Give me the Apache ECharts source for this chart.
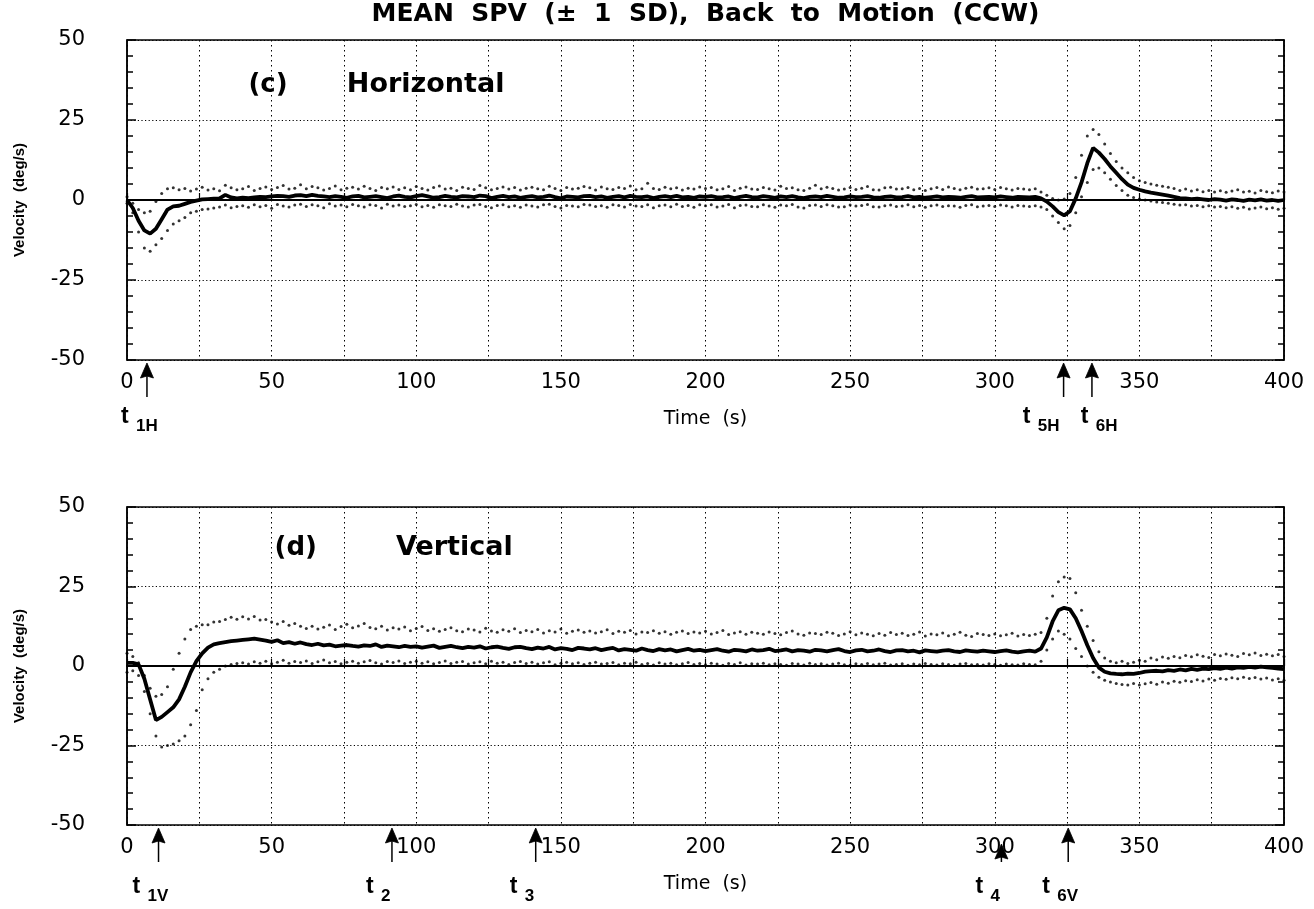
<!DOCTYPE html>
<html><head><meta charset="utf-8">
<script src="https://cdn.jsdelivr.net/npm/echarts@6/dist/echarts.min.js"></script>
<style>html,body{margin:0;padding:0;background:#fff}#main{width:1314px;height:909px}</style>
</head><body><div id="main"></div>
<script>
const titleText = 'MEAN  SPV  (\u00b1  1  SD),  Back  to  Motion  (CCW)';
const panelTags = ['(c)', '(d)'];
const panelNames = ['Horizontal', 'Vertical'];
const xTickLabels = [0, 50, 100, 150, 200, 250, 300, 350, 400];
const yTickLabels = [-50, -25, 0, 25, 50];

const time = [0,2,4,6,8,10,12,14,16,18,20,22,24,26,28,30,32,34,36,38,40,42,44,46,48,50,52,54,56,58,60,62,64,66,68,70,72,74,76,78,80,82,84,86,88,90,92,94,96,98,100,102,104,106,108,110,112,114,116,118,120,122,124,126,128,130,132,134,136,138,140,142,144,146,148,150,152,154,156,158,160,162,164,166,168,170,172,174,176,178,180,182,184,186,188,190,192,194,196,198,200,202,204,206,208,210,212,214,216,218,220,222,224,226,228,230,232,234,236,238,240,242,244,246,248,250,252,254,256,258,260,262,264,266,268,270,272,274,276,278,280,282,284,286,288,290,292,294,296,298,300,302,304,306,308,310,312,314,316,318,320,322,324,326,328,330,332,334,336,338,340,342,344,346,348,350,352,354,356,358,360,362,364,366,368,370,372,374,376,378,380,382,384,386,388,390,392,394,396,398,400];

// (c) Horizontal
const hMean = [
0,-2.5,-6.5,-9.5,-10.5,-9,-6,-3,-2,-1.8,
-1.2,-0.6,-0.2,0.2,0.3,0.4,0.5,1.6,0.8,0.5,
0.7,0.6,0.8,1.0,0.9,1.1,1.3,1.2,1.0,1.4,
1.5,1.2,1.6,1.3,1.1,0.9,1.2,1.0,0.7,1.1,
1.3,0.8,1.0,1.2,0.9,0.6,1.1,1.4,1.0,0.8,
1.2,1.5,1.1,0.7,0.9,1.3,1.0,0.8,1.2,1.1,
0.9,1.4,1.2,0.6,1.0,1.3,0.9,1.1,0.7,1.0,
1.2,0.8,1.0,1.4,0.9,0.5,1.1,1.0,0.8,1.2,
1.3,0.9,1.1,0.7,1.0,1.2,0.8,1.3,1.0,0.9,
1.1,0.6,1.0,1.2,0.9,1.3,0.8,1.0,0.7,1.1,
1.0,1.2,0.8,0.9,1.1,0.6,1.0,1.3,0.9,0.8,
1.2,1.0,0.7,1.1,0.9,1.2,0.8,0.6,1.0,1.1,
0.9,1.3,1.0,0.7,0.8,1.1,0.9,1.0,1.2,0.8,
0.7,1.0,1.1,0.8,0.9,1.2,0.8,1.0,0.7,0.9,
1.1,0.8,1.0,0.9,0.7,1.0,1.2,0.8,0.9,1.0,
0.8,1.1,0.9,0.7,1.0,0.9,0.8,1.0,0.5,-0.5,
-2,-3.8,-4.8,-3.5,0.5,5.5,11.5,16.3,14.8,12.8,
10.5,8.5,6.5,4.8,3.8,3.2,2.7,2.3,2.0,1.7,
1.4,1.0,0.6,0.5,0.3,0.4,0.2,0.0,0.3,0.1,
-0.2,0.2,0.0,-0.3,0.1,-0.1,0.2,-0.2,0.0,-0.3,
0.0];
const hUpper = [
1,-1,-3,-4,-3.5,-0.5,2,3.5,3.8,3.2,
3.6,2.8,3.4,4.0,3.1,3.5,2.9,4.6,3.8,3.2,
3.5,4.2,3.0,3.6,4.1,3.3,3.9,4.5,3.4,3.7,
4.8,3.5,4.2,3.8,3.1,3.6,4.4,3.2,3.7,4.0,
3.4,4.3,3.6,3.0,3.9,3.5,4.1,3.3,3.8,3.2,
4.2,3.6,3.1,3.9,4.4,3.4,3.7,3.0,4.0,3.6,
3.3,4.5,3.8,3.2,3.6,4.1,3.4,3.9,3.1,3.7,
4.0,3.5,3.2,4.3,3.6,3.0,3.9,3.4,3.7,4.2,
3.8,3.1,4.1,3.5,3.3,3.9,3.6,4.4,3.2,3.5,
5.2,3.6,3.3,4.0,3.5,3.8,3.1,3.7,3.4,4.1,
3.6,3.9,3.2,3.5,4.2,3.0,3.7,4.1,3.4,3.3,
3.9,3.5,3.1,4.3,3.6,3.8,3.2,3.0,3.7,4.6,
3.5,4.0,3.6,3.1,3.4,3.9,3.3,3.7,4.2,3.2,
3.1,3.8,4.0,3.4,3.5,3.9,3.2,3.6,3.0,3.5,
3.9,3.3,4.1,3.6,3.2,3.7,4.0,3.4,3.5,3.8,
3.3,3.9,3.5,3.1,3.6,3.4,3.2,3.5,2.5,1.5,
0.5,0.0,0.3,2.0,7.0,14.0,20.0,22.0,20.5,17.5,
14.5,12.0,10.0,8.5,7.0,6.0,5.5,5.0,4.6,4.3,
4.0,3.6,3.0,3.4,2.8,3.2,2.6,3.0,2.5,2.9,
2.4,2.8,3.2,2.5,2.7,2.2,3.0,2.6,2.3,2.8,
2.5];
const hLower = [
-1,-4,-10,-15,-16,-14,-12,-9.5,-7.5,-6.5,
-5.5,-4,-3.5,-3,-2.8,-2.5,-2.2,-1.6,-2.4,-2.0,
-1.8,-2.3,-1.5,-2.1,-1.7,-2.6,-1.4,-1.9,-2.2,-1.6,
-1.3,-2.0,-1.5,-1.8,-2.4,-1.2,-1.9,-1.6,-2.1,-1.4,
-1.8,-2.2,-1.5,-1.7,-2.5,-1.3,-1.9,-1.6,-2.0,-1.8,
-1.4,-2.1,-1.7,-2.3,-1.5,-1.8,-2.0,-1.3,-1.9,-2.2,
-1.6,-1.4,-2.0,-2.4,-1.7,-1.5,-2.1,-1.8,-2.3,-1.6,
-1.9,-2.2,-1.5,-1.3,-2.0,-2.5,-1.7,-1.9,-2.1,-1.4,
-1.6,-2.0,-1.8,-2.3,-1.5,-1.7,-2.2,-1.4,-1.9,-2.0,
-1.5,-2.4,-1.8,-1.6,-2.1,-1.3,-2.0,-1.7,-2.3,-1.5,
-1.8,-1.5,-2.2,-1.9,-1.4,-2.4,-1.7,-1.6,-2.0,-2.1,
-1.5,-1.9,-2.3,-1.6,-1.8,-1.4,-2.2,-2.5,-1.7,-1.6,
-2.0,-1.5,-1.8,-2.2,-2.1,-1.6,-1.9,-1.7,-1.4,-2.1,
-2.2,-1.8,-1.6,-2.0,-1.9,-1.5,-2.1,-1.7,-2.3,-1.8,
-1.6,-2.0,-1.8,-1.9,-2.3,-1.7,-1.5,-2.1,-1.9,-1.7,
-2.0,-1.6,-1.8,-2.2,-1.7,-1.9,-2.0,-1.8,-2.2,-3.0,
-5.0,-7.0,-9.0,-8.0,-4.0,1.0,5.5,9.5,10.0,8.5,
6.5,4.5,3.0,1.5,0.8,0.3,0.0,-0.3,-0.6,-0.8,
-1.0,-1.3,-1.6,-1.5,-1.9,-1.7,-2.1,-1.8,-2.2,-2.0,
-2.4,-2.1,-2.6,-2.3,-2.8,-2.5,-2.2,-2.7,-2.4,-2.9,
-2.6];

// (d) Vertical
const vMean = [
1,1,0.5,-4,-10.5,-17,-16,-14.5,-13,-10.5,
-6.5,-2,1.5,4,5.8,6.8,7.2,7.5,7.8,8.0,
8.2,8.4,8.6,8.3,8.0,7.6,8.1,7.2,7.5,7.0,
7.4,6.9,6.6,7.0,6.5,6.7,6.2,6.4,6.6,6.3,
6.1,6.5,6.3,6.8,6.0,6.4,6.2,5.9,6.3,6.0,
6.2,5.8,6.1,6.4,5.7,6.0,6.3,5.9,5.6,6.0,
5.8,6.2,5.5,5.9,6.1,5.7,5.4,5.9,6.0,5.6,
5.3,5.8,5.5,6.0,5.2,5.6,5.4,5.0,5.7,5.5,
5.2,5.6,5.0,5.4,5.7,4.9,5.3,5.1,4.8,5.5,
5.0,4.7,5.3,4.9,5.2,4.6,5.0,5.4,4.8,5.1,
4.7,5.0,5.3,4.8,4.5,5.1,4.9,4.6,5.2,4.8,
5.0,5.4,4.7,4.9,5.2,4.6,5.0,4.8,4.5,5.1,
4.9,4.6,5.0,5.3,4.7,4.4,4.9,5.1,4.6,4.8,
5.2,4.7,4.4,4.9,5.0,4.6,4.8,4.3,4.9,4.7,
4.5,4.8,5.0,4.6,4.4,4.9,4.7,4.5,4.8,4.6,
4.4,4.7,4.9,4.5,4.3,4.6,4.8,4.5,5.5,9.0,
14.0,17.5,18.3,17.8,15.0,11.0,6.5,2.5,-0.5,-1.8,
-2.3,-2.5,-2.6,-2.4,-2.5,-2.2,-1.8,-1.6,-1.5,-1.7,
-1.3,-1.5,-1.1,-1.4,-0.9,-1.2,-0.8,-1.0,-0.7,-0.9,
-0.5,-0.8,-0.4,-0.6,-0.3,-0.5,-0.2,-0.4,-0.6,-0.8,
-1.0];
const vUpper = [
4,3,1,-3,-7,-9.5,-9,-6.5,-1,4,
8.5,11.5,12.5,13,13,13.8,14,14.6,15.3,14.7,
15.5,14.8,15.6,14.5,14.6,13.8,13.2,14,12.8,13.4,
12.5,11.8,12.5,11.6,12.2,12.9,11.5,12.4,13.1,12.0,
12.6,13.4,12.1,11.7,12.5,11.3,12.0,11.6,12.3,11.1,
11.8,12.4,11.2,11.7,10.9,11.5,12.0,11.1,10.8,11.6,
11.3,10.7,11.9,11.0,10.6,11.4,10.9,11.7,10.5,11.2,
10.8,11.5,10.4,11.1,10.7,11.6,10.3,10.9,11.3,10.6,
11.0,10.4,10.8,11.4,10.2,10.9,10.6,11.2,10.1,10.7,
10.5,11.1,10.3,10.8,10.0,10.6,11.0,10.2,10.7,10.4,
10.9,10.1,10.5,11.2,9.9,10.4,10.8,10.0,10.6,10.3,
10.0,10.7,10.2,9.8,10.5,11.0,10.1,9.7,10.4,10.2,
9.9,10.6,10.3,9.6,10.1,10.8,9.8,10.4,10.0,9.5,
10.2,9.7,10.5,9.9,10.3,9.6,10.0,10.7,9.4,10.1,
9.8,10.4,9.5,10.0,10.6,9.7,9.3,10.2,9.9,9.6,
10.1,9.5,9.8,10.3,9.4,9.9,9.6,10.0,10.5,15.0,
22.0,26.5,28.0,27.5,23.0,17.5,12.5,8.0,4.5,2.5,
1.5,1.0,1.5,0.8,1.2,1.8,1.5,2.5,2.0,2.8,
2.4,3.0,2.6,3.3,2.9,3.5,3.1,2.7,3.6,3.2,
3.8,3.4,3.0,3.9,3.5,4.1,3.3,3.7,3.2,3.6,
3.0];
const vLower = [
-2,-1.5,-3,-8,-15,-22,-25.5,-25,-24.5,-23.5,
-22,-18.5,-14,-7.5,-4,-2,-1,0,0.5,0.8,
1.0,0.6,1.3,0.9,1.5,0.7,1.2,1.8,0.9,1.4,
1.1,1.6,0.8,1.3,1.9,1.0,1.4,0.7,1.2,1.5,
0.9,1.3,1.7,1.0,0.6,1.4,1.1,1.6,0.8,1.2,
1.5,0.9,1.3,0.7,1.1,1.6,0.8,1.2,1.4,0.6,
1.0,1.3,0.7,1.5,0.9,1.2,0.5,1.1,1.4,0.8,
1.2,0.6,1.0,1.3,0.4,0.9,1.2,0.7,1.0,0.5,
0.9,1.2,0.6,0.8,1.1,0.4,0.9,0.7,1.2,0.5,
0.8,0.3,1.0,0.6,0.9,0.4,0.7,1.1,0.5,0.8,
0.4,0.9,0.6,0.2,0.8,0.5,1.0,0.3,0.7,0.6,
0.9,0.4,0.7,0.5,0.2,0.8,0.6,0.3,0.9,0.5,
0.7,0.3,0.6,0.9,0.4,0.2,0.7,0.5,0.8,0.4,
0.6,0.9,0.3,0.5,0.7,0.2,0.6,0.4,0.8,0.5,
0.3,0.7,0.5,0.2,0.6,0.8,0.4,0.5,0.3,0.7,
0.5,0.2,0.6,0.4,0.3,0.7,0.5,0.4,1.5,5.0,
8.5,11.0,10.0,8.5,5.5,3.0,0.0,-2.0,-3.5,-4.5,
-5.0,-5.5,-5.8,-6.0,-5.5,-6.0,-5.6,-5.2,-5.7,-5.0,
-5.4,-4.8,-5.1,-4.6,-4.9,-4.3,-4.7,-4.1,-4.5,-3.9,
-4.2,-3.7,-4.0,-3.5,-3.9,-3.6,-4.1,-3.8,-4.4,-4.0,
-4.5];

// event markers (time, seconds)
const hEventSubs = ['1H', '5H', '6H'];
const hEventTimes = [6.9, 323.8, 333.6];
const vEventSubs = ['1V', '2', '3', '4', '6V'];
const vEventTimes = [10.9, 91.6, 141.3, 302.3, 325.4];

const panels = [
  {mean: hMean, upper: hUpper, lower: hLower, subs: hEventSubs, times: hEventTimes, tag: panelTags[0], name: panelNames[0]},
  {mean: vMean, upper: vUpper, lower: vLower, subs: vEventSubs, times: vEventTimes, tag: panelTags[1], name: panelNames[1]}
];

const chart = echarts.init(document.getElementById('main'), null, {renderer: 'canvas'});
const FONT = 'DejaVu Sans';
const grids = [
  {left: 127, top: 40, width: 1157, height: 320},
  {left: 127, top: 507, width: 1157, height: 318}
];

const xAxes = [], yAxes = [], series = [];
grids.forEach((g, k) => {
  xAxes.push({
    gridIndex: k, type: 'value', min: 0, max: 400, interval: 25,
    name: 'Time  (s)', nameLocation: 'middle', nameGap: 50,
    nameTextStyle: {fontFamily: FONT, fontSize: 19, color: '#000'},
    axisLine: {show: true, lineStyle: {color: '#000', width: 2.2}},
    axisTick: {show: true, inside: true, length: 7, lineStyle: {color: '#000', width: 1.2}},
    axisLabel: {margin: 12, fontFamily: FONT, fontSize: 21, color: '#000',
      formatter: v => xTickLabels.includes(v) ? String(v) : ''},
    splitLine: {show: true, lineStyle: {color: '#000', width: 1, type: [1.5, 3.5]}}
  });
  yAxes.push({
    gridIndex: k, type: 'value', min: -50, max: 50, interval: 25, position: 'left',
    name: 'Velocity  (deg/s)', nameLocation: 'middle', nameGap: 100, nameRotate: 90,
    nameTextStyle: {fontFamily: 'Liberation Sans', fontWeight: 'bold', fontSize: 15, color: '#000'},
    axisLine: {show: true, lineStyle: {color: '#000', width: 1.5}},
    axisTick: {show: true, inside: true, length: 9, lineStyle: {color: '#000', width: 1.5}},
    minorTick: {show: true, splitNumber: 5, length: 6, lineStyle: {color: '#000', width: 1.5}},
    axisLabel: {margin: 42, fontFamily: FONT, fontSize: 21, color: '#000',
      formatter: v => yTickLabels.includes(v) ? String(v) : ''},
    splitLine: {show: true, lineStyle: {color: '#000', width: 1.2, type: [1.2, 2.4]}}
  });
  yAxes.push({
    gridIndex: k, type: 'value', min: -50, max: 50, interval: 25, position: 'right',
    axisLine: {show: true, lineStyle: {color: '#000', width: 1.5}},
    axisTick: {show: true, inside: true, length: 9, lineStyle: {color: '#000', width: 1.5}},
    minorTick: {show: true, splitNumber: 5, length: 6, lineStyle: {color: '#000', width: 1.5}},
    axisLabel: {show: false},
    splitLine: {show: false}
  });
  const p = panels[k];
  series.push({
    type: 'scatter', xAxisIndex: k, yAxisIndex: 2 * k, symbol: 'circle', symbolSize: 3,
    itemStyle: {color: '#000'}, silent: true,
    data: time.map((t, i) => [t, p.upper[i]])
  });
  series.push({
    type: 'scatter', xAxisIndex: k, yAxisIndex: 2 * k, symbol: 'circle', symbolSize: 3,
    itemStyle: {color: '#000'}, silent: true,
    data: time.map((t, i) => [t, p.lower[i]])
  });
  series.push({
    type: 'line', xAxisIndex: k, yAxisIndex: 2 * k, showSymbol: false, z: 5,
    lineStyle: {color: '#000', width: 3.8}, silent: true,
    data: time.map((t, i) => [t, p.mean[i]])
  });
});

chart.setOption({
  animation: false,
  backgroundColor: '#fff',
  grid: grids.map(g => Object.assign({show: true, borderColor: '#000', borderWidth: 1.5, backgroundColor: 'transparent'}, g)),
  xAxis: xAxes,
  yAxis: yAxes,
  series: series
});

// Annotations: title, panel labels, event arrows
const graphics = [];
graphics.push({
  type: 'text', x: (grids[0].left + grids[0].left + grids[0].width) / 2, y: 14,
  style: {text: titleText, fontFamily: FONT, fontWeight: 'bold', fontSize: 25, fill: '#000',
    textAlign: 'center', textVerticalAlign: 'middle'}
});
// panel label anchors in data coords (time, velocity): tag and name
const tagPos = [[42, 36], [51, 37]];
const namePos = [[76, 36], [93, 37]];
panels.forEach((p, k) => {
  const tp = chart.convertToPixel({xAxisIndex: k, yAxisIndex: 2 * k}, tagPos[k]);
  const np = chart.convertToPixel({xAxisIndex: k, yAxisIndex: 2 * k}, namePos[k]);
  graphics.push({
    type: 'text', x: tp[0], y: tp[1],
    style: {text: p.tag, fontFamily: FONT, fontWeight: 'bold', fontSize: 26, fill: '#000',
      textAlign: 'left', textVerticalAlign: 'middle'}
  });
  graphics.push({
    type: 'text', x: np[0], y: np[1],
    style: {text: p.name, fontFamily: FONT, fontWeight: 'bold', fontSize: 27, fill: '#000',
      textAlign: 'left', textVerticalAlign: 'middle'}
  });
  const axisY = chart.convertToPixel({yAxisIndex: 2 * k}, -50);
  const labelPx = xTickLabels.map(v => chart.convertToPixel({xAxisIndex: k}, v));
  const xs = p.times.map(t => chart.convertToPixel({xAxisIndex: k}, t));
  // label centres, pushed apart if too close
  const centers = xs.map(x => x - 6);
  for (let i = 1; i < centers.length; i++) {
    const d = centers[i] - centers[i - 1];
    if (d < 58) { const s = (58 - d) / 2; centers[i - 1] -= s; centers[i] += s; }
  }
  const labelY = axisY + (k === 0 ? 57 : 62);
  xs.forEach((x, i) => {
    const nearLabel = labelPx.some(lx => Math.abs(lx - x) < 12);
    const tip = axisY + (nearLabel ? 19 : 3);
    const headH = 15, headW = 6.5;
    graphics.push({
      type: 'polygon', silent: true,
      shape: {points: [[x, tip], [x - headW, tip + headH], [x, tip + headH - 2], [x + headW, tip + headH]]},
      style: {fill: '#000', stroke: '#000', lineWidth: 0.8}
    });
    graphics.push({
      type: 'line', silent: true,
      shape: {x1: x, y1: tip + 8, x2: x, y2: axisY + 37},
      style: {stroke: '#000', lineWidth: 1.5}
    });
    const left = centers[i] - 20;
    graphics.push({
      type: 'text', x: left, y: labelY,
      style: {text: 't', fontFamily: 'Liberation Sans', fontWeight: 'bold', fontSize: 23, fill: '#000',
        textAlign: 'left', textVerticalAlign: 'middle'}
    });
    graphics.push({
      type: 'text', x: left + 15, y: labelY + 9,
      style: {text: p.subs[i], fontFamily: 'Liberation Sans', fontWeight: 'bold', fontSize: 17, fill: '#000',
        textAlign: 'left', textVerticalAlign: 'middle'}
    });
  });
});
chart.setOption({graphic: graphics});
</script>
</body></html>
